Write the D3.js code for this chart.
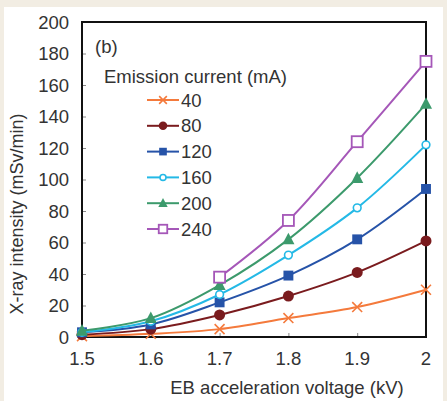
<!DOCTYPE html>
<html>
<head>
<meta charset="utf-8">
<script src="https://d3js.org/d3.v7.min.js"></script>
<style>
  body { margin: 0; background: #f2ede3; }
  svg { display: block; }
  text { font-family: "Liberation Sans", Arial, sans-serif; fill: #333; }
</style>
</head>
<body>
<div id="chart"></div>
<script>
// data
var voltages = [1.5, 1.6, 1.7, 1.8, 1.9, 2.0];
var currents = ["40", "80", "120", "160", "200", "240"];
var s40  = [0.5, 2, 5, 12, 19, 30];
var s80  = [1.5, 5, 14, 26, 41, 61];
var s120 = [3, 8, 22, 39, 62, 94];
var s160 = [3, 10, 27, 52, 82, 122];
var s200 = [4, 12, 33, 62, 101, 148];
var s240 = [null, null, 38, 74, 124, 175];
var yTicks = [0, 20, 40, 60, 80, 100, 120, 140, 160, 180, 200];
var xTicks = [1.5, 1.6, 1.7, 1.8, 1.9, 2.0];

var series = [
  {name: currents[0], values: s40,  color: "#f47a3c", marker: "cross"},
  {name: currents[1], values: s80,  color: "#7a1b1e", marker: "circle"},
  {name: currents[2], values: s120, color: "#2653a8", marker: "square"},
  {name: currents[3], values: s160, color: "#24b9e6", marker: "diamond"},
  {name: currents[4], values: s200, color: "#3c9a6c", marker: "triangle"},
  {name: currents[5], values: s240, color: "#a557b8", marker: "opensquare"}
];

var W = 447, H = 401;
var fs = "18.5px";
var margin = {top: 22, right: 21, bottom: 64, left: 82},
    width = W - margin.left - margin.right,
    height = H - margin.top - margin.bottom;

var svg = d3.select("#chart").append("svg")
    .attr("width", W)
    .attr("height", H);

// white panel on the beige page
svg.append("rect")
    .attr("x", 4).attr("y", 7)
    .attr("width", 439).attr("height", H - 7)
    .attr("fill", "#fff");

var g = svg.append("g")
    .attr("transform", "translate(" + margin.left + "," + margin.top + ")");

var x = d3.scaleLinear().domain([1.5, 2.0]).range([0, width]);
var y = d3.scaleLinear().domain([0, 200]).range([height, 0]);

// inward ticks
g.append("g")
    .call(d3.axisLeft(y).tickValues(yTicks).tickSize(-4).tickFormat(""))
    .call(a => a.select(".domain").remove())
    .selectAll("line").attr("stroke", "#888");
g.append("g")
    .attr("transform", "translate(0," + height + ")")
    .call(d3.axisBottom(x).tickValues(xTicks).tickSize(-4).tickFormat(""))
    .call(a => a.select(".domain").remove())
    .selectAll("line").attr("stroke", "#888");

// tick labels
g.selectAll(".ylab").data(yTicks).enter().append("text")
    .attr("x", -13)
    .attr("y", d => y(d) + 6.5)
    .attr("text-anchor", "end")
    .attr("font-size", fs)
    .text(d => d);
g.selectAll(".xlab").data(xTicks).enter().append("text")
    .attr("x", d => x(d))
    .attr("y", height + 28)
    .attr("text-anchor", "middle")
    .attr("font-size", fs)
    .text(d => d3.format("")(d));

// frame
g.append("rect")
    .attr("width", width).attr("height", height)
    .attr("fill", "none").attr("stroke", "#111").attr("stroke-width", 2);

var line = d3.line()
    .defined(d => d != null)
    .x((d, i) => x(voltages[i]))
    .y(d => y(d))
    .curve(d3.curveCatmullRom.alpha(0.5));

function drawMarker(sel, type, color, k) {
  var s = 4.5 * k;
  if (type === "cross") {
    sel.append("path")
      .attr("d", "M" + (-s) + "," + (-s) + "L" + s + "," + s + "M" + (-s) + "," + s + "L" + s + "," + (-s))
      .attr("stroke", color).attr("stroke-width", 1.6).attr("fill", "none");
  } else if (type === "circle") {
    sel.append("circle").attr("r", 5 * k).attr("fill", color);
  } else if (type === "square") {
    sel.append("rect").attr("x", -s).attr("y", -s).attr("width", 2 * s).attr("height", 2 * s).attr("fill", color);
  } else if (type === "diamond") {
    sel.append("circle").attr("r", 3.5 * k).attr("fill", "#fff").attr("stroke", color).attr("stroke-width", 1.6);
  } else if (type === "triangle") {
    sel.append("path").attr("d", "M0," + (-6 * k) + "L" + (5.5 * k) + "," + (4.5 * k) + "L" + (-5.5 * k) + "," + (4.5 * k) + "Z").attr("fill", color);
  } else if (type === "opensquare") {
    sel.append("rect").attr("x", -5 * k).attr("y", -5 * k).attr("width", 10 * k).attr("height", 10 * k)
      .attr("fill", "#fff").attr("stroke", color).attr("stroke-width", 1.8);
  }
}

series.forEach(function(s) {
  g.append("path")
    .datum(s.values)
    .attr("d", line)
    .attr("fill", "none")
    .attr("stroke", s.color)
    .attr("stroke-width", 2);
  s.values.forEach(function(v, i) {
    if (v == null) return;
    var m = g.append("g").attr("transform", "translate(" + x(voltages[i]) + "," + y(v) + ")");
    drawMarker(m, s.marker, s.color, 1.1);
  });
});

// panel label and legend
g.append("text").attr("x", 13).attr("y", 31).attr("font-size", fs).text("(b)");
g.append("text").attr("x", 22).attr("y", 61).attr("font-size", fs).text("Emission current (mA)");

var leg = g.selectAll(".leg").data(series).enter().append("g")
    .attr("transform", (d, i) => "translate(81," + (78 + i * 25.8) + ")");
leg.append("line")
    .attr("x1", -16).attr("x2", 16)
    .attr("stroke", d => d.color).attr("stroke-width", 2);
leg.each(function(d) { drawMarker(d3.select(this).append("g"), d.marker, d.color, 0.85); });
leg.append("text")
    .attr("x", 18).attr("y", 6.5)
    .attr("font-size", fs)
    .text(d => d.name);

// axis titles
svg.append("text")
    .attr("x", 287).attr("y", 394)
    .attr("text-anchor", "middle")
    .attr("font-size", fs)
    .text("EB acceleration voltage (kV)");
svg.append("text")
    .attr("transform", "translate(23,214) rotate(-90)")
    .attr("text-anchor", "middle")
    .attr("font-size", "18px")
    .text("X-ray intensity (mSv/min)");
</script>
</body>
</html>
